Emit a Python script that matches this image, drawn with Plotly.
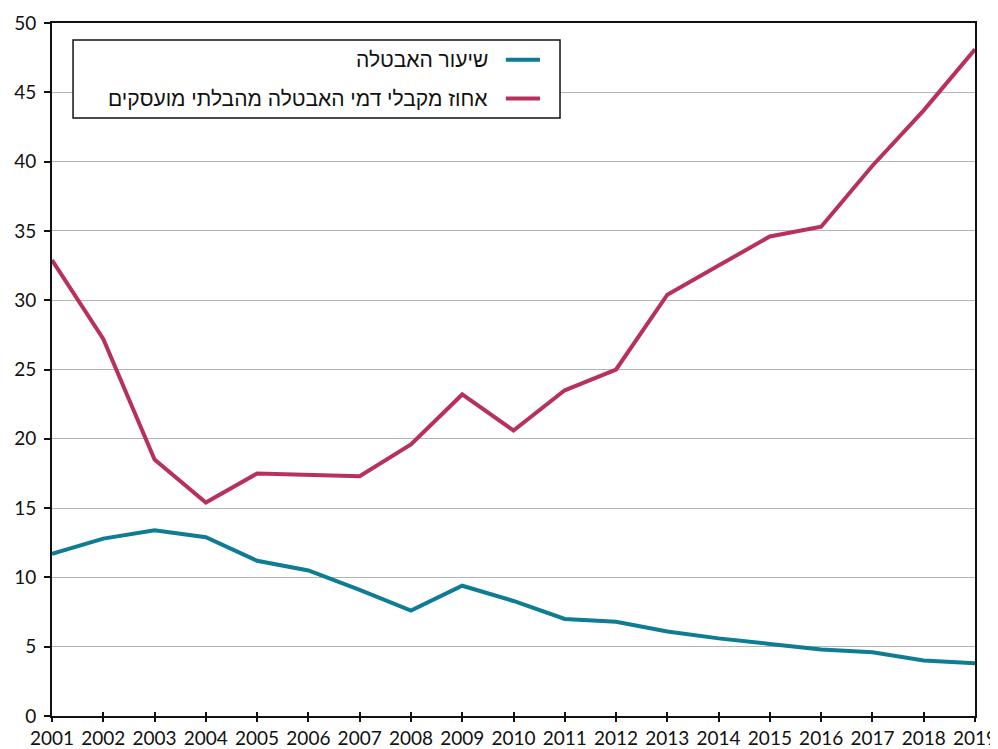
import plotly.graph_objects as go

years = list(range(2001, 2020))
unemployment_rate = [11.7, 12.8, 13.4, 12.9, 11.2, 10.5, 9.1, 7.6, 9.4, 8.3,
                     7.0, 6.8, 6.1, 5.6, 5.2, 4.8, 4.6, 4.0, 3.8]
benefit_share = [32.9, 27.2, 18.5, 15.4, 17.5, 17.4, 17.3, 19.6, 23.2, 20.6,
                 23.5, 25.0, 30.4, 32.5, 34.6, 35.3, 39.7, 43.7, 48.1]
series_names = ["שיעור האבטלה", "אחוז מקבלי דמי האבטלה מהבלתי מועסקים"]
y_ticks = [0, 5, 10, 15, 20, 25, 30, 35, 40, 45, 50]

TEAL = "#0E7C93"
RED = "#B8315A"
FONT = "Lato, 'Open Sans', sans-serif"
HEB_FONT = "'Liberation Sans', Arial, sans-serif"

fig = go.Figure()
fig.add_trace(go.Scatter(x=years, y=unemployment_rate, mode="lines",
                         line=dict(color=TEAL, width=4), name=series_names[0],
                         showlegend=False, cliponaxis=False))
fig.add_trace(go.Scatter(x=years, y=benefit_share, mode="lines",
                         line=dict(color=RED, width=4), name=series_names[1],
                         showlegend=False, cliponaxis=False))
# invisible trace to carry the inside half of the crossing x ticks
fig.add_trace(go.Scatter(x=years, y=[None] * len(years), xaxis="x2",
                         showlegend=False, hoverinfo="skip"))

fig.update_layout(
    width=990, height=741,
    margin=dict(l=44, r=23, t=15, b=33),
    paper_bgcolor="white", plot_bgcolor="white",
    font=dict(family=FONT, size=19, color="#111"),
    xaxis=dict(range=[2001, 2019], tickmode="array", tickvals=years,
               ticktext=[str(y) for y in years], automargin=False,
               showline=True, linecolor="#111", linewidth=2, mirror=True,
               ticks="outside", ticklen=4, tickwidth=2, tickcolor="#111",
               showgrid=False, zeroline=False,
               tickfont=dict(size=19, family=FONT)),
    xaxis2=dict(range=[2001, 2019], overlaying="x", tickmode="array",
                tickvals=years, showticklabels=False, ticks="inside",
                ticklen=4, tickwidth=2, tickcolor="#111", showgrid=False,
                zeroline=False, side="bottom", showline=False, automargin=False),
    yaxis=dict(range=[0, 50], tickmode="array", tickvals=y_ticks,
               automargin=False, ticklabelstandoff=4,
               showline=True, linecolor="#111", linewidth=2, mirror=True,
               ticks="outside", ticklen=6, tickwidth=2, tickcolor="#111",
               showgrid=True, gridcolor="#b5b5b5", gridwidth=1,
               zeroline=False, tickfont=dict(size=19, family=FONT)),
)

# manual right-to-left legend
fig.add_shape(type="rect", xref="paper", yref="paper",
              x0=0.0228, x1=0.5504, y0=0.863, y1=0.9755,
              line=dict(color="#111", width=1.5), fillcolor="white", layer="above")
legend_rows = [(0.947, TEAL, series_names[0]), (0.891, RED, series_names[1])]
for ypos, col, label in legend_rows:
    fig.add_shape(type="line", xref="paper", yref="paper",
                  x0=0.4917, x1=0.5287, y0=ypos, y1=ypos,
                  line=dict(color=col, width=4), layer="above")
    fig.add_annotation(xref="paper", yref="paper", x=0.4745, y=ypos,
                       text=label, showarrow=False, xanchor="right",
                       yanchor="middle", font=dict(size=21, family=HEB_FONT, color="#111"))

fig.write_html("out.html")
